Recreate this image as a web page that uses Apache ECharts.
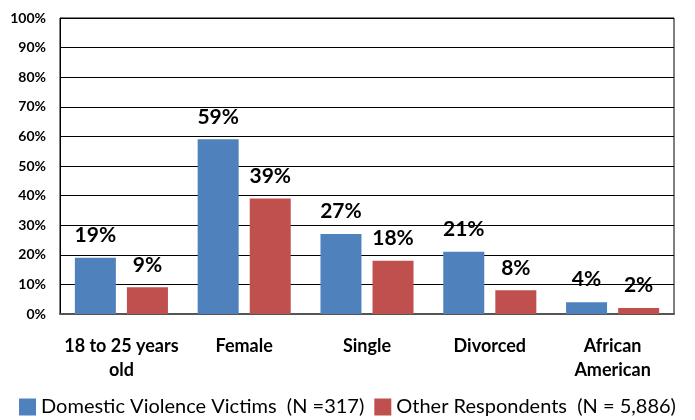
<!DOCTYPE html>
<html><head><meta charset="utf-8">
<script src="https://cdn.jsdelivr.net/npm/echarts@6/dist/echarts.min.js"></script>
<style>html,body{margin:0;padding:0;background:#fff}#c{width:695px;height:420px}</style>
</head><body><div id="c"></div>
<script>
const categories = ['18 to 25 years\nold', 'Female', 'Single', 'Divorced', 'African\nAmerican'];
const victims = [19, 59, 27, 21, 4];
const others = [9, 39, 18, 8, 2];
const seriesNames = ['Domestic Violence Victims  (N =317)', 'Other Respondents  (N = 5,886)'];
const yTicks = [0, 10, 20, 30, 40, 50, 60, 70, 80, 90, 100];

const font = 'Lato, "Open Sans", sans-serif';
const chart = echarts.init(document.getElementById('c'));
const lbl = {show: true, position: 'top', distance: 12, formatter: '{c}%', fontFamily: font, fontWeight: 'bold', fontSize: 21, color: '#000'};
chart.setOption({
  animation: false,
  grid: {left: 60, right: 21, top: 18, bottom: 106, show: true, borderColor: '#000', borderWidth: 1},
  legend: {top: 397, left: 'center', padding: [0, 5, 0, 5], itemWidth: 17, itemHeight: 17, itemGap: 10, icon: 'rect',
    textStyle: {fontFamily: font, fontSize: 20, color: '#000'}, data: seriesNames},
  xAxis: {type: 'category', data: categories,
    axisLine: {lineStyle: {color: '#555', width: 2}}, axisTick: {show: false},
    axisLabel: {interval: 0, fontFamily: font, fontWeight: 'bold', fontSize: 18, color: '#000', margin: 20, lineHeight: 24}},
  yAxis: {type: 'value', min: 0, max: 100, interval: 10,
    axisLine: {show: true, lineStyle: {color: '#000'}}, axisTick: {show: false},
    splitLine: {lineStyle: {color: '#000', width: 1}},
    axisLabel: {formatter: v => yTicks.includes(v) ? v + '%' : '', fontFamily: font, fontWeight: 'bold', fontSize: 14, color: '#000', margin: 14}},
  series: [
    {name: seriesNames[0], type: 'bar', data: victims, barWidth: 41, barGap: '27%', itemStyle: {color: '#4F81BD'}, label: lbl},
    {name: seriesNames[1], type: 'bar', data: others, barWidth: 41, itemStyle: {color: '#C0504D'}, label: lbl}
  ]
});
</script></body></html>
